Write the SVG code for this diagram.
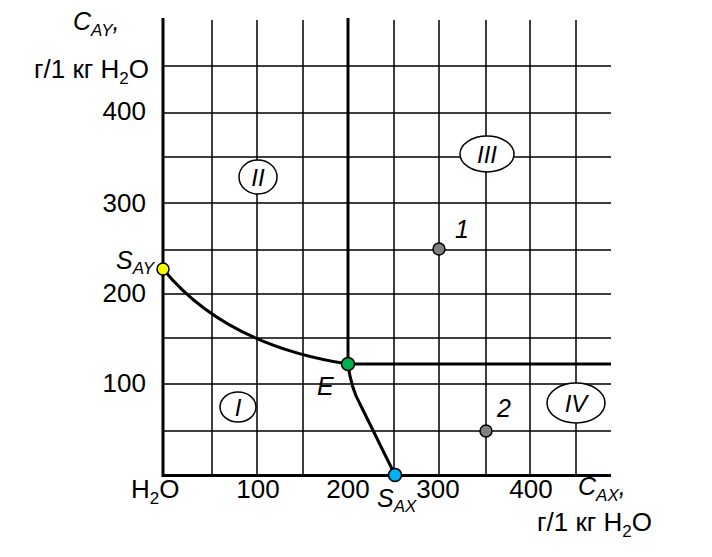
<svg xmlns="http://www.w3.org/2000/svg" width="712" height="557" viewBox="0 0 712 557">
<style>
.grid{stroke:#000;stroke-width:1.5;fill:none}
.axis{stroke:#000;stroke-width:3;fill:none}
.curve{stroke:#000;stroke-width:3;fill:none;stroke-linejoin:round}
.pt{stroke:#000;stroke-width:1.5}
.t{font-family:"Liberation Sans",Arial,sans-serif;font-size:26px;fill:#000}
.it{font-family:"Liberation Sans",Arial,sans-serif;font-size:25px;font-style:italic;fill:#000}
.reg{fill:#fff;stroke:#000;stroke-width:1.5}
.rt{font-family:"Liberation Sans",Arial,sans-serif;font-size:24px;font-style:italic;fill:#000;text-anchor:middle}
</style>
<rect width="712" height="557" fill="#fff"/>
<g id="grid" class="grid">
<path d="M212,20V474M257,20V474M303,20V474M394,20V474M439,20V474M486,20V474M530,20V474M576,20V474"/>
<path d="M163,66H611M163,113H611M163,157H611M163,203H611M163,250H611M163,294H611M163,338H611M163,384H611M163,431H611"/>
</g>
<g id="axes" class="axis">
<path d="M163,18V475.5H611"/>
<path d="M348,18V364H611"/>
</g>
<g id="connectors" class="curve">
<path d="M163,269 Q225,345 348,364"/>
<path d="M348,364 Q351,388 360,404 L395,475"/>
</g>
<g id="axis-labels">
<text class="it" x="73" y="30">C<tspan font-size="17" dy="6">AY</tspan><tspan dy="-6">,</tspan></text>
<text class="t" x="34" y="78">г/1 кг H<tspan font-size="17" dy="6">2</tspan><tspan dy="-6">O</tspan></text>
<text class="t" x="146" y="120" text-anchor="end">400</text>
<text class="t" x="146" y="212" text-anchor="end">300</text>
<text class="t" x="146" y="302" text-anchor="end">200</text>
<text class="t" x="146" y="392" text-anchor="end">100</text>
<text class="t" x="131" y="498">H<tspan font-size="17" dy="6">2</tspan><tspan dy="-6">O</tspan></text>
<text class="t" x="258" y="498" text-anchor="middle">100</text>
<text class="t" x="348" y="498" text-anchor="middle">200</text>
<text class="t" x="438" y="498" text-anchor="middle">300</text>
<text class="t" x="531" y="498" text-anchor="middle">400</text>
<text class="it" x="578" y="495">C<tspan font-size="17" dy="6">AX</tspan><tspan dy="-6">,</tspan></text>
<text class="t" x="537" y="531">г/1 кг H<tspan font-size="17" dy="6">2</tspan><tspan dy="-6">O</tspan></text>
</g>
<g id="region-I"><ellipse class="reg" cx="238" cy="407" rx="18" ry="15"/><text class="rt" x="238" y="416">I</text></g>
<g id="region-II"><ellipse class="reg" cx="258" cy="177" rx="19" ry="17"/><text class="rt" x="258" y="186">II</text></g>
<g id="region-III"><ellipse class="reg" cx="487" cy="154" rx="27" ry="18"/><text class="rt" x="487" y="163">III</text></g>
<g id="region-IV"><ellipse class="reg" cx="576" cy="403" rx="29" ry="20"/><text class="rt" x="576" y="412">IV</text></g>
<g id="point-SAY"><circle class="pt" cx="163" cy="269" r="6" fill="#ffff00"/><text class="it" x="116" y="269">S<tspan font-size="17" dy="5">AY</tspan></text></g>
<g id="point-E"><circle class="pt" cx="348" cy="364" r="6.5" fill="#00b050"/><text class="it" x="317" y="395">E</text></g>
<g id="point-SAX"><circle class="pt" cx="395" cy="475" r="6.5" fill="#00b0f0"/><text class="it" x="377" y="507">S<tspan font-size="17" dy="5">AX</tspan></text></g>
<g id="point-1"><circle class="pt" cx="439" cy="249" r="6" fill="#808080"/><text class="it" x="455" y="238">1</text></g>
<g id="point-2"><circle class="pt" cx="486" cy="431" r="6" fill="#808080"/><text class="it" x="497" y="417">2</text></g>
</svg>
